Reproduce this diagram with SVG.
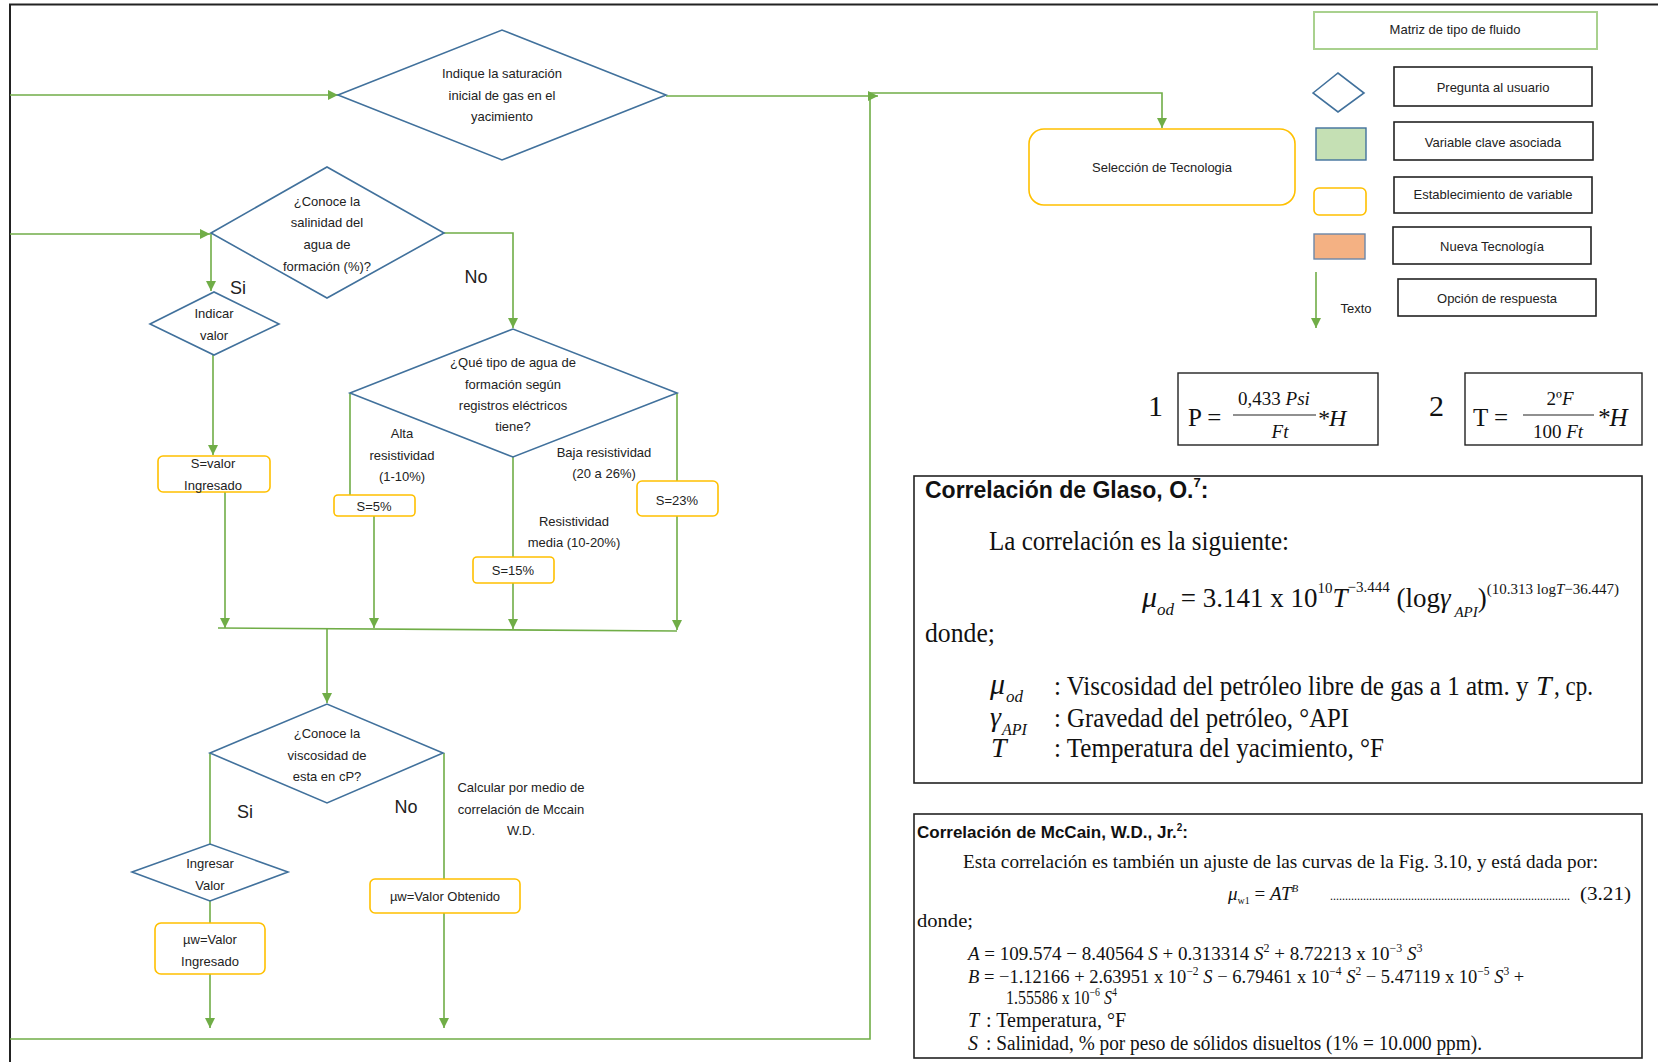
<svg xmlns="http://www.w3.org/2000/svg" width="1658" height="1062" viewBox="0 0 1658 1062">
  <defs>
    <marker id="arr" viewBox="0 0 10 10" refX="10" refY="5" markerWidth="11" markerHeight="10" markerUnits="userSpaceOnUse" orient="auto">
      <path d="M0,0 L10,5 L0,10 Z" fill="#70AD47"/>
    </marker>
    <style>
      .ln { fill: none; stroke: #70AD47; stroke-width: 1.6; }
      .dia { fill: #fff; stroke: #41719C; stroke-width: 1.6; }
      .box { fill: #fff; stroke: #FFC000; stroke-width: 1.6; }
      .leg { fill: #fff; stroke: #222; stroke-width: 1.6; }
      .t { font-family: "Liberation Sans", Arial, sans-serif; font-size: 13px; fill: #222; text-anchor: middle; }
      .lbl { font-family: "Liberation Sans", Arial, sans-serif; font-size: 18px; fill: #222; text-anchor: middle; }
      .ser { font-family: "Liberation Serif", "Times New Roman", serif; fill: #111; }
      .it { font-style: italic; }
      .hd { font-family: "Liberation Sans", Arial, sans-serif; font-weight: bold; fill: #111; }
    </style>
  </defs>

  <rect width="1658" height="1062" fill="#fff"/>

  <!-- page frame -->
  <path d="M10,1062 V4.5 H1658" fill="none" stroke="#222" stroke-width="2"/>

  <!-- connectors -->
  <g id="connectors">
    <path class="ln" d="M10,95 H338" marker-end="url(#arr)"/>
    <path class="ln" d="M666,96 H878" marker-end="url(#arr)"/>
    <path class="ln" d="M870,93 H1162 V128" marker-end="url(#arr)"/>
    <path class="ln" d="M10,1039 H870 V93"/>
    <path class="ln" d="M10,234 H210" marker-end="url(#arr)"/>
    <path class="ln" d="M211,233 V291" marker-end="url(#arr)"/>
    <path class="ln" d="M444,233 H513 V328" marker-end="url(#arr)"/>
    <path class="ln" d="M213,355 V455" marker-end="url(#arr)"/>
    <path class="ln" d="M225,492 V628" marker-end="url(#arr)"/>
    <path class="ln" d="M350,393 V495"/>
    <path class="ln" d="M374,516 V628" marker-end="url(#arr)"/>
    <path class="ln" d="M513,457 V557"/>
    <path class="ln" d="M513,583 V629" marker-end="url(#arr)"/>
    <path class="ln" d="M677,393 V481"/>
    <path class="ln" d="M677,516 V630" marker-end="url(#arr)"/>
    <path class="ln" d="M218,628 L677,631"/>
    <path class="ln" d="M327,629 V703" marker-end="url(#arr)"/>
    <path class="ln" d="M210,753 V844"/>
    <path class="ln" d="M210,901 V923"/>
    <path class="ln" d="M210,974 V1028" marker-end="url(#arr)"/>
    <path class="ln" d="M444,753 V879"/>
    <path class="ln" d="M444,913 V1028" marker-end="url(#arr)"/>
  </g>

  <!-- branch labels -->
  <g id="labels">
    <text class="lbl" x="238" y="294">Si</text>
    <text class="lbl" x="476" y="283">No</text>
    <text class="lbl" x="245" y="818">Si</text>
    <text class="lbl" x="406" y="813">No</text>
    <text class="t" x="402" y="438">Alta</text>
    <text class="t" x="402" y="460">resistividad</text>
    <text class="t" x="402" y="481">(1-10%)</text>
    <text class="t" x="604" y="457">Baja resistividad</text>
    <text class="t" x="604" y="478">(20 a 26%)</text>
    <text class="t" x="574" y="526">Resistividad</text>
    <text class="t" x="574" y="547">media (10-20%)</text>
    <text class="t" x="521" y="792">Calcular por medio de</text>
    <text class="t" x="521" y="814">correlación de Mccain</text>
    <text class="t" x="521" y="835">W.D.</text>
  </g>

  <!-- decision: gas saturation -->
  <g id="q-saturacion">
    <polygon class="dia" points="338,95 502,30 666,95 502,160"/>
    <text class="t" x="502" y="78">Indique la saturación</text>
    <text class="t" x="502" y="100">inicial de gas en el</text>
    <text class="t" x="502" y="121">yacimiento</text>
  </g>

  <!-- decision: salinity known -->
  <g id="q-salinidad">
    <polygon class="dia" points="211,233 327,167 444,233 327,298"/>
    <text class="t" x="327" y="206">¿Conoce la</text>
    <text class="t" x="327" y="227">salinidad del</text>
    <text class="t" x="327" y="249">agua de</text>
    <text class="t" x="327" y="271">formación (%)?</text>
  </g>

  <g id="q-indicar">
    <polygon class="dia" points="150,324 214,292 279,324 214,355"/>
    <text class="t" x="214" y="318">Indicar</text>
    <text class="t" x="214" y="340">valor</text>
  </g>

  <g id="s-valor">
    <rect class="box" x="158" y="456" width="112" height="36" rx="5"/>
    <text class="t" x="213" y="468">S=valor</text>
    <text class="t" x="213" y="490">Ingresado</text>
  </g>

  <!-- decision: water type -->
  <g id="q-tipo-agua">
    <polygon class="dia" points="350,393 513,329 677,393 513,457"/>
    <text class="t" x="513" y="367">¿Qué tipo de agua de</text>
    <text class="t" x="513" y="389">formación según</text>
    <text class="t" x="513" y="410">registros eléctricos</text>
    <text class="t" x="513" y="431">tiene?</text>
  </g>

  <g id="s-5">
    <rect class="box" x="334" y="495" width="81" height="21" rx="4"/>
    <text class="t" x="374" y="511">S=5%</text>
  </g>
  <g id="s-15">
    <rect class="box" x="473" y="557" width="81" height="26" rx="4"/>
    <text class="t" x="513" y="575">S=15%</text>
  </g>
  <g id="s-23">
    <rect class="box" x="637" y="481" width="81" height="35" rx="5"/>
    <text class="t" x="677" y="505">S=23%</text>
  </g>

  <!-- decision: viscosity known -->
  <g id="q-viscosidad">
    <polygon class="dia" points="210,753 327,704 443,753 327,803"/>
    <text class="t" x="327" y="738">¿Conoce la</text>
    <text class="t" x="327" y="760">viscosidad de</text>
    <text class="t" x="327" y="781">esta en cP?</text>
  </g>

  <g id="q-ingresar">
    <polygon class="dia" points="132,872 210,844 288,872 210,901"/>
    <text class="t" x="210" y="868">Ingresar</text>
    <text class="t" x="210" y="890">Valor</text>
  </g>

  <g id="mu-ingresado">
    <rect class="box" x="155" y="923" width="110" height="51" rx="6"/>
    <text class="t" x="210" y="944">µw=Valor</text>
    <text class="t" x="210" y="966">Ingresado</text>
  </g>

  <g id="mu-obtenido">
    <rect class="box" x="370" y="879" width="150" height="34" rx="5"/>
    <text class="t" x="445" y="901">µw=Valor Obtenido</text>
  </g>

  <g id="seleccion">
    <rect class="box" x="1029" y="129" width="266" height="76" rx="15"/>
    <text class="t" x="1162" y="172">Selección  de Tecnologia</text>
  </g>

  <!-- legend -->
  <g id="legend">
    <rect x="1314" y="12" width="283" height="37" fill="#fff" stroke="#A9D18E" stroke-width="2"/>
    <text class="t" x="1455" y="34">Matriz de tipo de fluido</text>

    <polygon class="dia" points="1313,93 1338,73 1364,93 1338,112"/>
    <rect class="leg" x="1394" y="67" width="198" height="39"/>
    <text class="t" x="1493" y="92">Pregunta al usuario</text>

    <rect x="1316" y="128" width="50" height="32" fill="#C5E0B4" stroke="#41719C" stroke-width="1.4"/>
    <rect class="leg" x="1394" y="122" width="199" height="38"/>
    <text class="t" x="1493" y="147">Variable clave asociada</text>

    <rect class="box" x="1314" y="188" width="52" height="27" rx="5"/>
    <rect class="leg" x="1394" y="177" width="198" height="36"/>
    <text class="t" x="1493" y="199">Establecimiento de variable</text>

    <rect x="1314" y="234" width="51" height="25" fill="#F4B183" stroke="#6C87A8" stroke-width="1.4"/>
    <rect class="leg" x="1393" y="227" width="198" height="37"/>
    <text class="t" x="1492" y="251">Nueva Tecnología</text>

    <path class="ln" d="M1316,272 V328" marker-end="url(#arr)"/>
    <text class="t" x="1356" y="313">Texto</text>
    <rect class="leg" x="1398" y="279" width="198" height="37"/>
    <text class="t" x="1497" y="303">Opción de respuesta</text>
  </g>

  <!-- equation 1: pressure gradient -->
  <g id="eq-presion" class="ser">
    <text x="1148" y="416" font-size="30">1</text>
    <rect x="1178" y="373" width="200" height="72" fill="none" stroke="#222" stroke-width="1.4"/>
    <text x="1188" y="426" font-size="25">P =</text>
    <text x="1274" y="405" font-size="19" text-anchor="middle">0,433 <tspan class="it">Psi</tspan></text>
    <line x1="1233" y1="415" x2="1316" y2="415" stroke="#222" stroke-width="1.2"/>
    <text x="1280" y="438" font-size="19" text-anchor="middle" class="it">Ft</text>
    <text x="1317" y="426" font-size="24" class="it">*H</text>
  </g>

  <!-- equation 2: temperature gradient -->
  <g id="eq-temperatura" class="ser">
    <text x="1429" y="416" font-size="30">2</text>
    <rect x="1465" y="373" width="177" height="72" fill="none" stroke="#222" stroke-width="1.4"/>
    <text x="1473" y="426" font-size="25">T =</text>
    <text x="1560" y="405" font-size="19" text-anchor="middle">2º<tspan class="it">F</tspan></text>
    <line x1="1523" y1="415" x2="1594" y2="415" stroke="#222" stroke-width="1.2"/>
    <text x="1558" y="438" font-size="19" text-anchor="middle">100 <tspan class="it">Ft</tspan></text>
    <text x="1597" y="426" font-size="25" class="it">*H</text>
  </g>

  <!-- Glaso correlation panel -->
  <g id="glaso">
    <rect x="914" y="476" width="728" height="307" fill="none" stroke="#222" stroke-width="1.6"/>
    <text class="hd" x="925" y="498" font-size="23">Correlación de Glaso, O.<tspan font-size="13" dy="-11">7</tspan><tspan dy="11">:</tspan></text>
    <text class="ser" x="989" y="550" font-size="28" textLength="300" lengthAdjust="spacingAndGlyphs">La correlación es la siguiente:</text>

    <text class="ser" x="1142" y="607" font-size="27"><tspan class="it" font-size="30">μ</tspan><tspan class="it" font-size="17" dy="8">od</tspan><tspan dy="-8"> = 3.141 x 10</tspan><tspan font-size="15" dy="-14">10</tspan><tspan class="it" dy="14">T</tspan><tspan font-size="15" dy="-15">−3.444</tspan><tspan dy="15"> (log</tspan><tspan class="it">γ</tspan><tspan class="it" font-size="15" dy="10"> API</tspan><tspan dy="-10">)</tspan><tspan font-size="15" dy="-13">(10.313  log</tspan><tspan class="it" font-size="15">T</tspan><tspan font-size="15">−36.447)</tspan></text>

    <text class="ser" x="925" y="642" font-size="28" textLength="70" lengthAdjust="spacingAndGlyphs">donde;</text>

    <text class="ser it" x="990" y="694" font-size="30">μ<tspan font-size="17" dy="8" dx="1">od</tspan></text>
    <text class="ser" transform="translate(1054,695) scale(0.895,1)" font-size="28">: Viscosidad del petróleo libre de gas a 1 atm. y</text>
    <text class="ser it" x="1536" y="695" font-size="28">T</text>
    <text class="ser" x="1554" y="695" font-size="28" textLength="39" lengthAdjust="spacingAndGlyphs">, cp.</text>

    <text class="ser it" x="990" y="726" font-size="28">γ<tspan font-size="16" dy="9" dx="1">API</tspan></text>
    <text class="ser" x="1054" y="727" font-size="28" textLength="295" lengthAdjust="spacingAndGlyphs">: Gravedad del petróleo, °API</text>

    <text class="ser it" x="991" y="757" font-size="28">T</text>
    <text class="ser" x="1054" y="757" font-size="28" textLength="330" lengthAdjust="spacingAndGlyphs">: Temperatura del yacimiento, °F</text>
  </g>

  <!-- McCain correlation panel -->
  <g id="mccain">
    <rect x="914" y="814" width="728" height="244" fill="none" stroke="#222" stroke-width="1.6"/>
    <text class="hd" x="917" y="838" font-size="17">Correlación de McCain, W.D., Jr.<tspan font-size="10" dy="-7">2</tspan><tspan dy="7">:</tspan></text>
    <text class="ser" x="963" y="868" font-size="19" textLength="635" lengthAdjust="spacingAndGlyphs">Esta correlación es también un ajuste de las curvas de la Fig. 3.10, y está dada por:</text>

    <text class="ser" x="1228" y="900" font-size="19"><tspan class="it">μ</tspan><tspan font-size="10" dy="4">w1</tspan><tspan dy="-4"> = </tspan><tspan class="it">AT</tspan><tspan class="it" font-size="11" dy="-8">B</tspan></text>
    <text class="ser" x="1330" y="900" font-size="12">................................................................................</text>
    <text class="ser" x="1580" y="900" font-size="19" textLength="51" lengthAdjust="spacingAndGlyphs">(3.21)</text>

    <text class="ser" x="917" y="927" font-size="19" textLength="56" lengthAdjust="spacingAndGlyphs">donde;</text>

    <text class="ser" x="968" y="960" font-size="19"><tspan class="it">A</tspan> =  109.574 − 8.40564 <tspan class="it">S</tspan> + 0.313314 <tspan class="it">S</tspan><tspan font-size="12" dy="-8">2</tspan><tspan dy="8"> + 8.72213 x 10</tspan><tspan font-size="12" dy="-8">−3</tspan><tspan class="it" dy="8"> S</tspan><tspan font-size="12" dy="-8">3</tspan></text>
    <text class="ser" x="968" y="983" font-size="18.5"><tspan class="it">B</tspan> = −1.12166 + 2.63951 x 10<tspan font-size="11.5" dy="-8">−2</tspan><tspan class="it" dy="8"> S</tspan> − 6.79461 x 10<tspan font-size="11.5" dy="-8">−4</tspan><tspan class="it" dy="8"> S</tspan><tspan font-size="11.5" dy="-8">2</tspan><tspan dy="8"> − 5.47119 x 10</tspan><tspan font-size="11.5" dy="-8">−5</tspan><tspan class="it" dy="8"> S</tspan><tspan font-size="11.5" dy="-8">3</tspan><tspan dy="8"> +</tspan></text>
    <text class="ser" transform="translate(1006,1004) scale(0.86,1)" font-size="18.5">1.55586 x 10<tspan font-size="11.5" dy="-8">−6</tspan><tspan class="it" dy="8"> S</tspan><tspan font-size="11.5" dy="-8">4</tspan></text>
    <text class="ser it" x="968" y="1027" font-size="20">T</text>
    <text class="ser" x="986" y="1027" font-size="20" textLength="140" lengthAdjust="spacingAndGlyphs">: Temperatura, °F</text>
    <text class="ser it" x="968" y="1050" font-size="20">S</text>
    <text class="ser" x="986" y="1050" font-size="20" textLength="496" lengthAdjust="spacingAndGlyphs">: Salinidad, % por peso de sólidos disueltos (1% = 10.000 ppm).</text>
  </g>
</svg>
